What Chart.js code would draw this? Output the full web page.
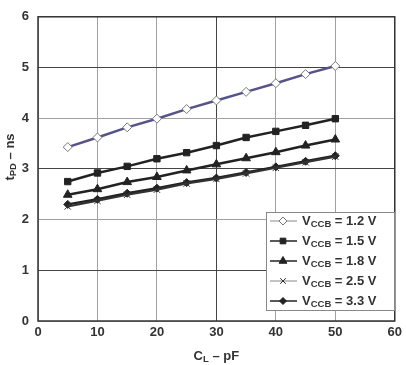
<!DOCTYPE html>
<html>
<head>
<meta charset="utf-8">
<script src="https://cdn.jsdelivr.net/npm/chart.js@4"></script>
<style>
  html, body { margin: 0; padding: 0; background: #fff; }
  #wrap { width: 406px; height: 365px; position: relative; }
</style>
</head>
<body>
<div id="wrap"><canvas id="chart"></canvas></div>
<script>
// load capacitance (pF)
const loadCap = [5, 10, 15, 20, 25, 30, 35, 40, 45, 50];

// propagation delay (ns) per VCCB
const v12 = [3.43, 3.62, 3.82, 3.99, 4.18, 4.35, 4.52, 4.69, 4.87, 5.03];
const v15 = [2.75, 2.92, 3.05, 3.20, 3.32, 3.46, 3.62, 3.74, 3.86, 3.99];
const v18 = [2.49, 2.60, 2.74, 2.84, 2.97, 3.09, 3.21, 3.33, 3.46, 3.58];
const v25 = [2.26, 2.37, 2.49, 2.59, 2.71, 2.80, 2.91, 3.02, 3.13, 3.24];
const v33 = [2.30, 2.40, 2.52, 2.62, 2.73, 2.82, 2.93, 3.04, 3.15, 3.26];

const seriesLabels = ['1.2 V', '1.5 V', '1.8 V', '2.5 V', '3.3 V'];

const FONT = '"Liberation Sans", Arial, sans-serif';
const TXT = '#333';

function toXY(arr) {
  return arr.map((v, i) => ({ x: loadCap[i], y: v }));
}

const styles = [
  { color: '#55538a', point: 'rectRot', radius: 4.5, fill: '#fff', pborder: '#777', width: 2.5 },
  { color: '#222', point: 'rect', radius: 4.5, fill: '#222', pborder: '#222', width: 2.5 },
  { color: '#222', point: 'triangle', radius: 5, fill: '#222', pborder: '#222', width: 2.5 },
  { color: '#333', point: 'crossRot', radius: 4.5, fill: '#333', pborder: '#333', width: 2 },
  { color: '#222', point: 'rectRot', radius: 4, fill: '#222', pborder: '#222', width: 2.5 }
];

const allData = [v12, v15, v18, v25, v33];

const datasets = allData.map((d, i) => ({
  label: seriesLabels[i],
  data: toXY(d),
  borderColor: styles[i].color,
  borderWidth: styles[i].width,
  pointStyle: styles[i].point,
  pointRadius: styles[i].radius,
  pointBackgroundColor: styles[i].fill,
  pointBorderColor: styles[i].pborder,
  pointBorderWidth: 1,
  tension: 0
}));

// draw text with subscript parts: [[text, isSub], ...]
function partsWidth(ctx, parts) {
  let w = 0;
  parts.forEach(p => {
    ctx.font = p[1] ? 'bold 9.5px ' + FONT : 'bold 13px ' + FONT;
    w += ctx.measureText(p[0]).width;
  });
  return w;
}
function drawParts(ctx, parts, x, y) {
  parts.forEach(p => {
    ctx.font = p[1] ? 'bold 9.5px ' + FONT : 'bold 13px ' + FONT;
    ctx.fillText(p[0], x, p[1] ? y + 3 : y);
    x += ctx.measureText(p[0]).width;
  });
}

function drawMarker(ctx, style, r, x, y) {
  Chart.helpers.drawPoint(ctx, { pointStyle: style, radius: r, rotation: 0, borderWidth: 1 }, x, y);
}

const extras = {
  id: 'extras',
  afterDraw(chart) {
    const ctx = chart.ctx;
    const a = chart.chartArea;
    ctx.save();

    // frame
    ctx.strokeStyle = '#333';
    ctx.lineWidth = 1.5;
    ctx.strokeRect(a.left, a.top, a.right - a.left, a.bottom - a.top);

    ctx.fillStyle = TXT;
    ctx.textBaseline = 'middle';
    ctx.textAlign = 'left';

    // x title
    const xt = [['C', false], ['L', true], [' \u2013 pF', false]];
    const xw = partsWidth(ctx, xt);
    drawParts(ctx, xt, (a.left + a.right) / 2 - xw / 2, 356);

    // y title
    const yt = [['t', false], ['PD', true], [' \u2013 ns', false]];
    const yw = partsWidth(ctx, yt);
    ctx.save();
    ctx.translate(10, 157);
    ctx.rotate(-Math.PI / 2);
    drawParts(ctx, yt, -yw / 2, 0);
    ctx.restore();

    // legend box
    const bx = 266, by = 212, bw = 128, bh = 98;
    ctx.fillStyle = '#fff';
    ctx.fillRect(bx, by, bw, bh);
    ctx.strokeStyle = '#888';
    ctx.lineWidth = 1;
    ctx.strokeRect(bx + 0.5, by + 0.5, bw, bh);

    chart.data.datasets.forEach((ds, i) => {
      const ry = 221 + i * 20;
      ctx.strokeStyle = (i === 0 || i === 3) ? '#888' : '#222';
      ctx.lineWidth = (i === 0 || i === 3) ? 1 : 1.5;
      ctx.beginPath();
      ctx.moveTo(270, ry);
      ctx.lineTo(297, ry);
      ctx.stroke();
      ctx.fillStyle = ds.pointBackgroundColor;
      ctx.strokeStyle = ds.pointBorderColor;
      ctx.lineWidth = 1;
      drawMarker(ctx, ds.pointStyle, ds.pointRadius - 0.5, 283, ry);
      ctx.fillStyle = TXT;
      drawParts(ctx, [['V', false], ['CCB', true], [' = ' + ds.label, false]], 302, ry);
    });

    ctx.restore();
  }
};

function gridColor(c) {
  const v = c.tick ? c.tick.value : 0;
  return (v === 1 || v === 3 || v === 5 || v === 30) ? '#444' : '#a0a0a0';
}

new Chart(document.getElementById('chart'), {
  type: 'line',
  data: { datasets: datasets },
  plugins: [extras],
  options: {
    responsive: true,
    maintainAspectRatio: false,
    animation: false,
    layout: { padding: { top: 3, right: 9, left: 0, bottom: 0 } },
    plugins: { legend: { display: false }, tooltip: { enabled: false } },
    scales: {
      x: {
        type: 'linear',
        min: 0, max: 60,
        ticks: { stepSize: 10, color: TXT, padding: 4, font: { family: FONT, size: 13, weight: 'bold' } },
        grid: { color: gridColor, lineWidth: 1, drawTicks: false },
        border: { display: false },
        afterFit(s) { s.height = 44; }
      },
      y: {
        min: 0, max: 6,
        ticks: { stepSize: 1, color: TXT, padding: 9, font: { family: FONT, size: 13, weight: 'bold' } },
        grid: { color: gridColor, lineWidth: 1, drawTicks: false },
        border: { display: false },
        afterFit(s) { s.width = 38; }
      }
    }
  }
});
</script>
</body>
</html>
